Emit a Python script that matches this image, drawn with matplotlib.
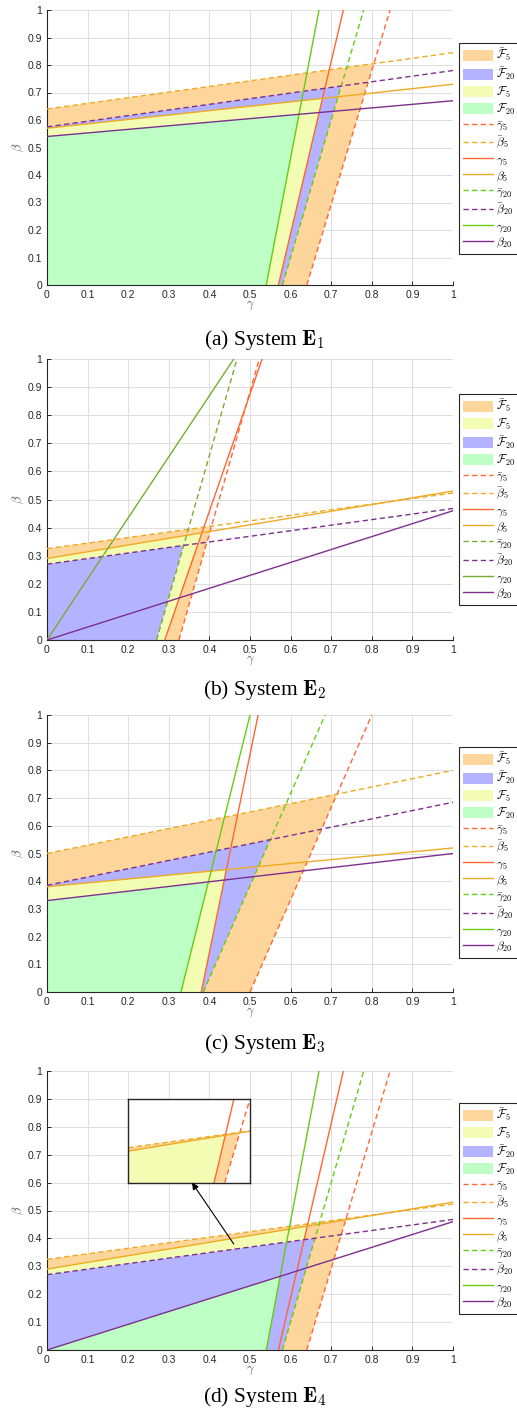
import matplotlib
matplotlib.use("Agg")
import matplotlib.pyplot as plt
from matplotlib.patches import Patch
from matplotlib.lines import Line2D

plt.rcParams['mathtext.fontset'] = 'cm'
plt.rcParams['font.family'] = ['Liberation Sans', 'DejaVu Sans']

# ---------------- data (line end values) ----------------
# beta lines: value of beta at gamma=0 and gamma=1
# gamma lines: value of gamma at beta=0 and beta=1
panels = ['a', 'b', 'c', 'd']
captions = [r'(a) System $\mathbf{E}_1$', r'(b) System $\mathbf{E}_2$',
            r'(c) System $\mathbf{E}_3$', r'(d) System $\mathbf{E}_4$']

beta_bar5 = {'a': [0.64, 0.845], 'b': [0.325, 0.523], 'c': [0.50, 0.80], 'd': [0.325, 0.523]}
beta5 = {'a': [0.57, 0.73], 'b': [0.29, 0.53], 'c': [0.38, 0.52], 'd': [0.29, 0.53]}
beta_bar20 = {'a': [0.575, 0.78], 'b': [0.27, 0.468], 'c': [0.385, 0.685], 'd': [0.27, 0.468]}
beta20 = {'a': [0.54, 0.67], 'b': [0.0, 0.46], 'c': [0.33, 0.50], 'd': [0.0, 0.46]}

gamma_bar5 = {'a': [0.64, 0.845], 'b': [0.325, 0.523], 'c': [0.50, 0.80], 'd': [0.64, 0.845]}
gamma5 = {'a': [0.57, 0.73], 'b': [0.29, 0.53], 'c': [0.38, 0.52], 'd': [0.57, 0.73]}
gamma_bar20 = {'a': [0.58, 0.78], 'b': [0.27, 0.468], 'c': [0.385, 0.685], 'd': [0.58, 0.78]}
gamma20 = {'a': [0.54, 0.67], 'b': [0.0, 0.46], 'c': [0.33, 0.50], 'd': [0.54, 0.67]}

# order of the filled regions (= legend order)
fill_order = {'a': ['Fb5', 'Fb20', 'F5', 'F20'], 'b': ['Fb5', 'F5', 'Fb20', 'F20'],
              'c': ['Fb5', 'Fb20', 'F5', 'F20'], 'd': ['Fb5', 'F5', 'Fb20', 'F20']}

# inset of panel (d), in the inset's own unit coordinates
inset_beta_bar5 = [0.417, 0.617]
inset_beta5 = [0.376, 0.614]
inset_gamma_bar5 = [0.793, 1.0]
inset_gamma5 = [0.705, 0.868]

ticks = [0, 0.1, 0.2, 0.3, 0.4, 0.5, 0.6, 0.7, 0.8, 0.9, 1]
tick_labels = ['0', '0.1', '0.2', '0.3', '0.4', '0.5', '0.6', '0.7', '0.8', '0.9', '1']

# ---------------- styles ----------------
C_FB5 = '#FED69B'
C_FB20 = '#B3B3FF'
C_F5 = '#F2FDB3'
C_F20 = '#BDFFC4'
C_G5 = '#FF6633'
C_B5 = '#EFAA22'
C_PUR = '#7E2F8E'
C_GRN = {'a': '#66CC11', 'b': '#77AC30', 'c': '#66CC11', 'd': '#66CC11'}
DASH = (3.8, 2.4)
LW = 1.0

fill_labels = {'Fb5': r'$\bar{\mathcal{F}}_5$', 'Fb20': r'$\bar{\mathcal{F}}_{20}$',
               'F5': r'$\mathcal{F}_5$', 'F20': r'$\mathcal{F}_{20}$'}
fill_colors = {'Fb5': C_FB5, 'Fb20': C_FB20, 'F5': C_F5, 'F20': C_F20}


def region(bline, gline):
    a0, a1 = bline
    c0, c1 = gline
    b = a1 - a0
    d = c1 - c0
    gs = (c0 + d * a0) / (1 - d * b)
    bs = a0 + b * gs
    return [0, c0, gs, 0], [0, 0, bs, a0]


W, H = 517, 1416
fig = plt.figure(figsize=(W / 100, H / 100), dpi=100)

ax_px = {'a': (10, 285), 'b': (359, 640), 'c': (715, 992), 'd': (1071, 1350)}
leg_top = {'a': 43, 'b': 394, 'c': 747, 'd': 1103}
cap_y = {'a': 340, 'b': 690, 'c': 1044, 'd': 1397}
x_left, x_right = 47, 453

for p, cap in zip(panels, captions):
    top, bot = ax_px[p]
    ax = fig.add_axes([x_left / W, 1 - bot / H, (x_right - x_left) / W, (bot - top) / H])
    ax.set_xlim(0, 1)
    ax.set_ylim(0, 1)
    ax.set_xticks(ticks)
    ax.set_yticks(ticks)
    ax.set_xticklabels(tick_labels)
    ax.set_yticklabels(tick_labels)
    ax.grid(True, color='#DEDEDE', lw=0.7, zorder=0)
    ax.set_axisbelow(True)
    for s in ['top', 'right']:
        ax.spines[s].set_visible(False)
    for s in ['left', 'bottom']:
        ax.spines[s].set_color('#262626')
        ax.spines[s].set_linewidth(0.8)
    ax.tick_params(direction='in', length=3, width=0.7, labelsize=7.5,
                   colors='#262626', pad=3.5)
    ax.set_xlabel(r'$\gamma$', fontsize=9, color='#555555', labelpad=0)
    ax.set_ylabel(r'$\beta$', fontsize=9, color='#555555', labelpad=1)

    regs = {'Fb5': (beta_bar5[p], gamma_bar5[p]), 'Fb20': (beta_bar20[p], gamma_bar20[p]),
            'F5': (beta5[p], gamma5[p]), 'F20': (beta20[p], gamma20[p])}
    handles = []
    labels = []
    for k in fill_order[p]:
        xs, ys = region(*regs[k])
        ax.fill(xs, ys, color=fill_colors[k], lw=0, zorder=1)
        handles.append(Patch(facecolor=fill_colors[k], edgecolor='none'))
        labels.append(fill_labels[k])

    cg = C_GRN[p]
    line_specs = [
        ('g', gamma_bar5[p], C_G5, True, r'$\bar{\gamma}_5$'),
        ('b', beta_bar5[p], C_B5, True, r'$\bar{\beta}_5$'),
        ('g', gamma5[p], C_G5, False, r'$\gamma_5$'),
        ('b', beta5[p], C_B5, False, r'$\beta_5$'),
        ('g', gamma_bar20[p], cg, True, r'$\bar{\gamma}_{20}$'),
        ('b', beta_bar20[p], C_PUR, True, r'$\bar{\beta}_{20}$'),
        ('g', gamma20[p], cg, False, r'$\gamma_{20}$'),
        ('b', beta20[p], C_PUR, False, r'$\beta_{20}$'),
    ]
    for kind, vals, col, dashed, lab in line_specs:
        if kind == 'b':
            ln, = ax.plot([0, 1], vals, color=col, lw=LW, zorder=3)
        else:
            ln, = ax.plot(vals, [0, 1], color=col, lw=LW, zorder=3)
        if dashed:
            ln.set_dashes(DASH)
        h = Line2D([], [], color=col, lw=LW)
        if dashed:
            h.set_dashes(DASH)
        handles.append(h)
        labels.append(lab)

    leg = ax.legend(handles, labels, loc='upper left',
                    bbox_to_anchor=(459 / W, 1 - leg_top[p] / H),
                    bbox_transform=fig.transFigure, borderaxespad=0,
                    fontsize=8.5, frameon=True, fancybox=False, framealpha=1,
                    edgecolor='#262626', handlelength=2.6, handleheight=1.05,
                    handletextpad=0.2, labelspacing=0.18, borderpad=0.3)
    leg.get_frame().set_linewidth(0.8)

    fig.text(0.512, 1 - cap_y[p] / H, cap, ha='center', va='center', fontsize=15.5,
             family='Liberation Serif')

    if p == 'd':
        ins = ax.inset_axes([0.2, 0.6, 0.3, 0.3], transform=ax.transData, zorder=5)
        ins.set_xlim(0, 1)
        ins.set_ylim(0, 1)
        ins.set_xticks([])
        ins.set_yticks([])
        ins.set_facecolor('white')
        for s in ins.spines.values():
            s.set_color('#262626')
            s.set_linewidth(1.0)
        xs, ys = region(inset_beta_bar5, inset_gamma_bar5)
        ins.fill(xs, ys, color=C_FB5, lw=0)
        xs, ys = region(inset_beta5, inset_gamma5)
        ins.fill(xs, ys, color=C_F5, lw=0)
        l1, = ins.plot(inset_gamma_bar5, [0, 1], color=C_G5, lw=LW)
        l1.set_dashes(DASH)
        l2, = ins.plot([0, 1], inset_beta_bar5, color=C_B5, lw=LW)
        l2.set_dashes(DASH)
        ins.plot(inset_gamma5, [0, 1], color=C_G5, lw=LW)
        ins.plot([0, 1], inset_beta5, color=C_B5, lw=LW)
        ax.annotate('', xy=(0.357, 0.60), xytext=(0.46, 0.38),
                    arrowprops=dict(arrowstyle='-|>', color='k', lw=0.8,
                                    mutation_scale=10, shrinkA=0, shrinkB=0),
                    zorder=6)

fig.savefig('out.png', dpi=100)
